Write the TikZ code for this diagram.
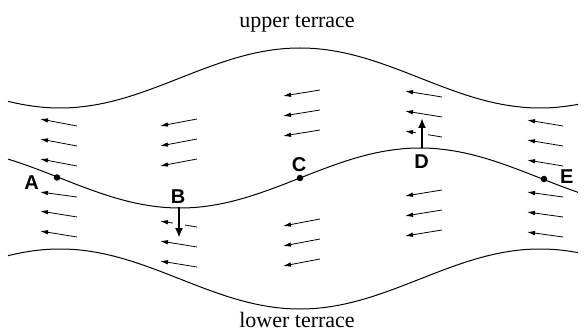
\documentclass[tikz,border=0pt]{standalone}
\usepackage{fontspec}
\setmainfont{Liberation Serif}
\newfontfamily\labelfont{Liberation Sans}
\usetikzlibrary{arrows.meta}
\tikzset{
  edgeline/.style={line width=1pt},
  flow/.style={-{Latex[length=8pt,width=4.5pt]}, line width=0.8pt},
  move/.style={-{Latex[length=10pt,width=8pt]}, line width=2pt},
  gap/.style={white, line width=12pt},
  pointlabel/.style={font=\labelfont\bfseries\fontsize{20}{23}\selectfont, anchor=base, inner sep=0pt},
  terrace/.style={font=\fontsize{22}{26}\selectfont, anchor=base, inner sep=0pt},
  dot/.style={circle, fill=black, inner sep=0pt, minimum size=6.5pt}
}
\begin{document}
\begin{tikzpicture}[x=1pt,y=-1pt]
\useasboundingbox (0,0) rectangle (586,331);
% terrace boundaries
\draw[edgeline] plot[domain=8:578, samples=120, smooth] (\x, {78+30*cos((\x-60)*0.75)});
\draw[edgeline] plot[domain=8:578, samples=120, smooth] (\x, {178+30*cos((\x-180)*0.75)});
\draw[edgeline] plot[domain=8:578, samples=120, smooth] (\x, {279-30*cos((\x-60)*0.75)});
% flow arrows (tail x, tail y, head x, head y)
\foreach \tx/\ty/\hx/\hy in {
  77/126/40/119, 77/146/40/139, 77/166/40/159,
  77/197/40/192, 77/217/40/211, 77/237/40/231,
  197/119/160/126, 197/139/160/146, 197/159/160/166,
  197/227/160/221, 197/247/160/241, 197/267/160/261,
  320/90/283/96, 320/110/283/116, 320/130/283/136,
  320/219/283/226, 320/239/283/246, 320/259/283/266,
  442/97/405/91, 442/117/405/111, 442/137/405/131,
  442/190/405/196, 442/210/405/216, 442/230/405/236,
  563/126/527/120, 563/146/527/140, 563/166/527/160,
  563/197/527/192, 563/217/527/212, 563/237/527/232}
  {\coordinate (t) at (\tx,\ty); \coordinate (h) at (\hx,\hy); \draw[flow] (t) -- (h);}
% points on the terrace edge
\node[dot] (A) at (57,177.5) {};
\node[dot] (C) at (300,178) {};
\node[dot] (E) at (544,179) {};
\coordinate (Bs) at (179,207);
\coordinate (Be) at (179,238);
\coordinate (Ds) at (422,148.5);
\coordinate (De) at (422,118);
% gaps and movement arrows
\draw[gap] (179,214) -- (179,234);
\draw[gap] (422,142) -- (422,126);
\draw[move] (Bs) -- (Be);
\draw[move] (Ds) -- (De);
% labels
\node[pointlabel] (lA) at (31.5,189.3) {A};
\node[pointlabel] (lB) at (178,203.3) {B};
\node[pointlabel] (lC) at (299,171.7) {C};
\node[pointlabel] (lD) at (421.7,168.3) {D};
\node[pointlabel] (lE) at (566.7,183.3) {E};
\node[terrace] (up) at (297,28) {upper terrace};
\node[terrace] (low) at (297,327) {lower terrace};
\end{tikzpicture}
\end{document}
